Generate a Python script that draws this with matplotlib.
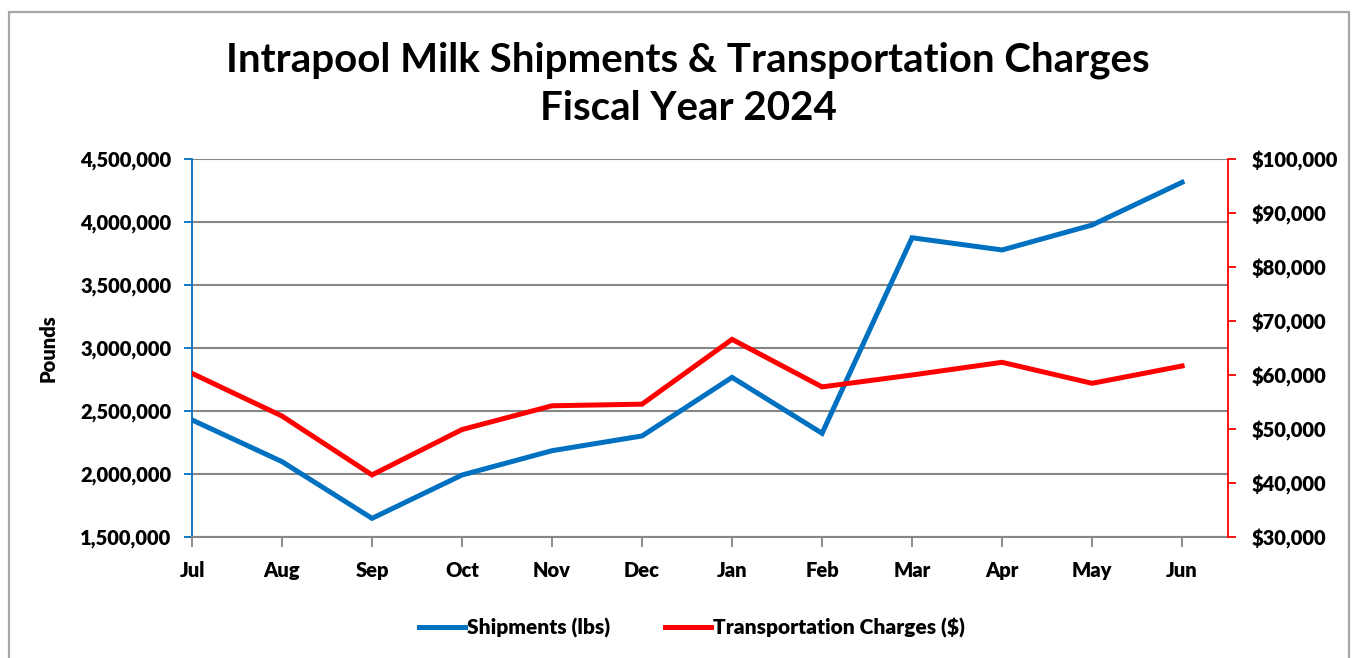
import matplotlib
matplotlib.use("Agg")
import matplotlib.pyplot as plt
from matplotlib.patches import Rectangle
from matplotlib.ticker import FuncFormatter, MultipleLocator
from matplotlib.lines import Line2D

plt.rcParams['font.family'] = ['Lato', 'DejaVu Sans']
plt.rcParams['font.weight'] = 'bold'

months = ["Jul", "Aug", "Sep", "Oct", "Nov", "Dec", "Jan", "Feb", "Mar", "Apr", "May", "Jun"]
shipments_lbs = [2429000, 2098000, 1648000, 1992000, 2185000, 2302000,
                 2767000, 2323000, 3875000, 3778000, 3976000, 4315000]
charges_usd = [60300, 52400, 41500, 49900, 54300, 54600,
               66600, 57800, 60000, 62350, 58460, 61670]

BLUE = "#0070C0"
RED = "#FF0000"
GRID = "#868686"
LABEL_WEIGHT = "heavy"

W, H = 1357, 658
fig = plt.figure(figsize=(W / 100, H / 100), dpi=100)

# chart frame
fig.patches.append(Rectangle((9 / W, -0.02), (1349 - 9) / W, 1 - 12 / H + 0.02,
                             transform=fig.transFigure, fill=False,
                             edgecolor="#A6A6A6", linewidth=1.6))

ax = fig.add_axes([192 / W, 1 - 537 / H, (1228 - 192) / W, (537 - 159) / H])
ax2 = ax.twinx()

x = list(range(len(months)))
ax.plot(x, shipments_lbs, color=BLUE, lw=3.6, solid_joinstyle="miter", zorder=3)
ax2.plot(x, charges_usd, color=RED, lw=3.6, solid_joinstyle="miter", zorder=3)

ax.set_xlim(0, 11.51)
ax.set_ylim(1500000, 4500000)
ax2.set_ylim(30000, 100000)

ax.yaxis.set_major_locator(MultipleLocator(500000))
ax2.yaxis.set_major_locator(MultipleLocator(10000))
ax.yaxis.set_major_formatter(FuncFormatter(lambda v, p: f"{v:,.0f}"))
ax2.yaxis.set_major_formatter(FuncFormatter(lambda v, p: f"${v:,.0f}"))

ax.set_xticks(x)
ax.set_xticklabels(months)

ax.grid(axis="y", color=GRID, lw=1.5)
ax.set_axisbelow(True)

for a in (ax, ax2):
    a.spines["top"].set_visible(False)
    a.set_facecolor("none")
ax.spines["right"].set_visible(False)
ax2.spines["left"].set_visible(False)
ax2.spines["bottom"].set_visible(False)
ax.spines["left"].set_color(BLUE)
ax.spines["left"].set_linewidth(1.3)
ax2.spines["right"].set_color(RED)
ax2.spines["right"].set_linewidth(1.3)
ax.spines["bottom"].set_color(GRID)
ax.spines["bottom"].set_linewidth(1.5)

TICK_FS = 14.5
ax.tick_params(axis="y", colors=BLUE, length=6, width=1.3, labelcolor="black",
               labelsize=TICK_FS, pad=9)
ax2.tick_params(axis="y", colors=RED, length=6, width=1.3, labelcolor="black",
                labelsize=TICK_FS, pad=11)
ax.tick_params(axis="x", colors=GRID, length=7, width=1.3, labelcolor="black",
               labelsize=TICK_FS, pad=10)
for lbl in ax.get_xticklabels() + ax.get_yticklabels() + ax2.get_yticklabels():
    lbl.set_fontweight(LABEL_WEIGHT)

ax.set_ylabel("Pounds", fontsize=14.5, fontweight=LABEL_WEIGHT, labelpad=16)

fig.text(688 / W, 1 - 60 / H, "Intrapool Milk Shipments & Transportation Charges",
         ha="center", va="center", fontsize=29, fontweight="bold")
fig.text(688 / W, 1 - 108 / H, "Fiscal Year 2024",
         ha="center", va="center", fontsize=29, fontweight="bold")

handles = [Line2D([], [], color=BLUE, lw=3.6),
           Line2D([], [], color=RED, lw=3.6)]
fig.legend(handles, ["Shipments (lbs)", "Transportation Charges ($)"],
           loc="center", bbox_to_anchor=(692 / W, 1 - 628 / H), ncol=2,
           frameon=False, prop={"size": 15, "weight": LABEL_WEIGHT},
           handlelength=2.2, handletextpad=0.1, columnspacing=2.6)

fig.savefig("out.png", dpi=100)
